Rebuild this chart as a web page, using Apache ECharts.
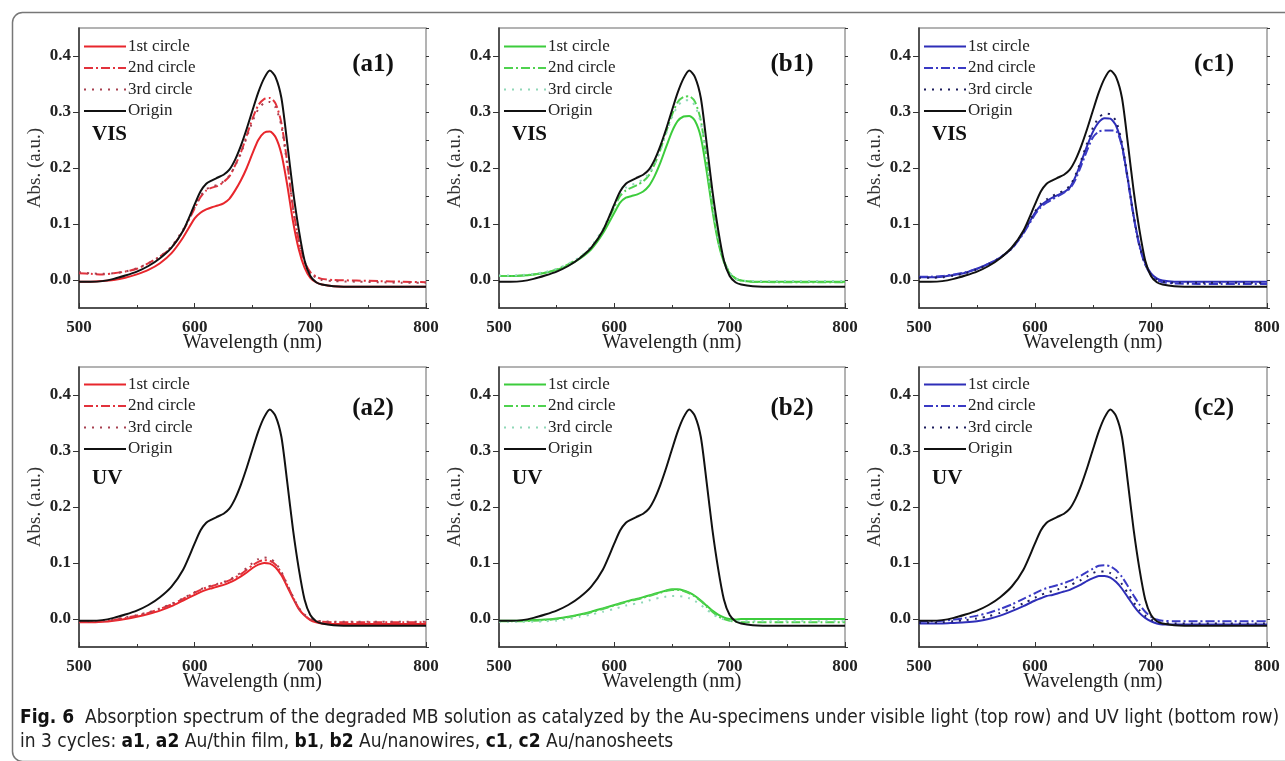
<!DOCTYPE html>
<html>
<head>
<meta charset="utf-8">
<script src="https://cdn.jsdelivr.net/npm/echarts@6/dist/echarts.min.js"></script>
<style>
html,body{margin:0;padding:0;background:#fff;}
#chart{width:1285px;height:761px;}
</style>
</head>
<body>
<div id="chart"></div>
<script>
// ---- data ----
const wavelength = [500,510,520,530,540,550,560,570,580,590,600,605,610,615,620,625,630,635,640,645,650,655,660,665,670,675,680,685,690,695,700,705,710,720,740,760,780,800];
const origin = [-0.003,-0.003,-0.002,0.002,0.008,0.015,0.025,0.039,0.058,0.088,0.135,0.158,0.172,0.178,0.183,0.188,0.197,0.215,0.240,0.270,0.303,0.335,0.360,0.374,0.362,0.325,0.245,0.160,0.090,0.035,0.007,-0.004,-0.008,-0.011,-0.012,-0.012,-0.012,-0.012];

const a1_1st = [-0.003,-0.003,-0.002,0.000,0.004,0.010,0.018,0.030,0.048,0.076,0.110,0.120,0.126,0.130,0.133,0.137,0.145,0.160,0.178,0.200,0.226,0.250,0.263,0.265,0.255,0.225,0.170,0.105,0.055,0.022,0.004,-0.004,-0.008,-0.011,-0.012,-0.012,-0.012,-0.012];
const a1_2nd = [0.012,0.011,0.010,0.012,0.015,0.020,0.030,0.042,0.058,0.088,0.128,0.148,0.160,0.165,0.168,0.175,0.185,0.205,0.228,0.258,0.288,0.312,0.323,0.325,0.315,0.280,0.210,0.130,0.070,0.033,0.014,0.006,0.002,0.000,-0.001,-0.002,-0.003,-0.004];
const a1_3rd = [0.014,0.012,0.011,0.012,0.015,0.021,0.030,0.042,0.060,0.090,0.130,0.150,0.162,0.167,0.170,0.176,0.186,0.204,0.226,0.255,0.283,0.305,0.316,0.318,0.308,0.275,0.205,0.128,0.068,0.032,0.013,0.004,0.000,-0.002,-0.003,-0.004,-0.005,-0.005];

const b1_1st = [0.007,0.007,0.008,0.010,0.013,0.018,0.026,0.038,0.055,0.083,0.120,0.138,0.147,0.150,0.153,0.158,0.168,0.186,0.210,0.238,0.265,0.284,0.292,0.293,0.284,0.255,0.195,0.125,0.068,0.032,0.012,0.003,-0.001,-0.003,-0.003,-0.003,-0.003,-0.003];
const b1_2nd = [0.007,0.007,0.008,0.010,0.013,0.019,0.028,0.040,0.058,0.088,0.130,0.150,0.160,0.165,0.170,0.176,0.187,0.207,0.233,0.265,0.295,0.318,0.327,0.328,0.318,0.285,0.215,0.135,0.073,0.035,0.013,0.003,-0.001,-0.003,-0.004,-0.004,-0.004,-0.004];
const b1_3rd = [0.008,0.008,0.009,0.011,0.014,0.020,0.029,0.041,0.060,0.091,0.134,0.155,0.165,0.170,0.174,0.180,0.190,0.208,0.232,0.262,0.290,0.311,0.320,0.321,0.311,0.280,0.212,0.133,0.072,0.034,0.013,0.003,-0.001,-0.002,-0.002,-0.002,-0.002,-0.002];

const c1_1st = [0.005,0.005,0.006,0.009,0.013,0.020,0.029,0.040,0.057,0.085,0.120,0.133,0.141,0.147,0.152,0.157,0.165,0.185,0.212,0.240,0.265,0.282,0.289,0.288,0.275,0.240,0.180,0.115,0.063,0.030,0.012,0.003,-0.001,-0.003,-0.003,-0.003,-0.003,-0.003];
const c1_2nd = [0.006,0.006,0.007,0.010,0.014,0.020,0.029,0.040,0.056,0.083,0.117,0.130,0.138,0.144,0.150,0.156,0.163,0.180,0.205,0.232,0.255,0.265,0.267,0.267,0.266,0.238,0.178,0.113,0.060,0.027,0.009,0.000,-0.004,-0.006,-0.007,-0.007,-0.007,-0.007];
const c1_3rd = [0.004,0.004,0.005,0.008,0.012,0.019,0.028,0.040,0.057,0.086,0.122,0.136,0.144,0.150,0.155,0.160,0.168,0.188,0.215,0.245,0.272,0.290,0.297,0.296,0.283,0.245,0.182,0.115,0.062,0.028,0.010,0.001,-0.003,-0.005,-0.005,-0.005,-0.005,-0.005];

const a2_1st = [-0.006,-0.006,-0.005,-0.003,0.000,0.004,0.009,0.015,0.023,0.033,0.043,0.048,0.052,0.055,0.058,0.061,0.065,0.070,0.076,0.083,0.091,0.097,0.100,0.099,0.092,0.078,0.058,0.037,0.018,0.006,-0.002,-0.006,-0.008,-0.009,-0.009,-0.009,-0.009,-0.009];
const a2_2nd = [-0.005,-0.005,-0.004,-0.002,0.002,0.006,0.011,0.018,0.026,0.036,0.047,0.052,0.056,0.059,0.062,0.065,0.069,0.074,0.080,0.088,0.096,0.102,0.105,0.104,0.097,0.082,0.061,0.039,0.019,0.007,-0.001,-0.004,-0.005,-0.006,-0.006,-0.006,-0.006,-0.006];
const a2_3rd = [-0.004,-0.004,-0.003,-0.001,0.003,0.007,0.012,0.019,0.027,0.037,0.048,0.053,0.057,0.060,0.063,0.066,0.070,0.076,0.083,0.091,0.100,0.107,0.110,0.108,0.100,0.084,0.062,0.040,0.020,0.008,0.000,-0.003,-0.004,-0.005,-0.005,-0.005,-0.005,-0.005];

const b2_1st = [-0.003,-0.003,-0.003,-0.002,-0.001,0.001,0.004,0.008,0.013,0.019,0.025,0.028,0.031,0.034,0.036,0.039,0.042,0.045,0.048,0.051,0.053,0.053,0.051,0.047,0.041,0.033,0.024,0.015,0.008,0.003,0.000,-0.001,0.000,0.000,0.000,0.000,0.000,0.000];
const b2_2nd = [-0.004,-0.004,-0.004,-0.003,-0.002,0.000,0.003,0.007,0.012,0.018,0.024,0.027,0.030,0.033,0.035,0.038,0.041,0.044,0.047,0.050,0.052,0.052,0.050,0.046,0.040,0.032,0.022,0.013,0.005,0.000,-0.003,-0.005,-0.006,-0.006,-0.006,-0.006,-0.006,-0.006];
const b2_3rd = [-0.005,-0.005,-0.005,-0.005,-0.004,-0.003,0.000,0.004,0.008,0.013,0.018,0.021,0.024,0.026,0.028,0.030,0.033,0.036,0.038,0.040,0.041,0.041,0.040,0.037,0.032,0.025,0.017,0.009,0.003,-0.001,-0.003,-0.004,-0.004,-0.004,-0.004,-0.004,-0.004,-0.004];

const c2_1st = [-0.008,-0.008,-0.008,-0.007,-0.006,-0.004,0.000,0.006,0.014,0.023,0.033,0.037,0.041,0.043,0.046,0.049,0.052,0.057,0.062,0.068,0.073,0.077,0.077,0.074,0.066,0.054,0.039,0.024,0.011,0.002,-0.004,-0.008,-0.010,-0.010,-0.010,-0.010,-0.010,-0.010];
const c2_2nd = [-0.005,-0.004,-0.003,-0.001,0.002,0.006,0.011,0.018,0.026,0.036,0.046,0.051,0.055,0.058,0.061,0.064,0.068,0.073,0.078,0.084,0.090,0.095,0.096,0.094,0.087,0.075,0.059,0.042,0.026,0.013,0.004,-0.001,-0.003,-0.004,-0.004,-0.004,-0.004,-0.004];
const c2_3rd = [-0.007,-0.007,-0.006,-0.004,-0.002,0.001,0.005,0.011,0.019,0.028,0.038,0.043,0.047,0.050,0.053,0.056,0.060,0.065,0.070,0.076,0.082,0.085,0.085,0.082,0.074,0.062,0.046,0.030,0.016,0.006,-0.001,-0.005,-0.007,-0.008,-0.008,-0.008,-0.008,-0.008];

const seriesNames = ['1st circle','2nd circle','3rd circle','Origin'];
const xTickLabels = [500,600,700,800];
const yTickLabels = [0.0,0.1,0.2,0.3,0.4];
const panelTags = ['(a1)','(b1)','(c1)','(a2)','(b2)','(c2)'];
const lightTags = ['VIS','VIS','VIS','UV','UV','UV'];
const panelData = [
  [a1_1st,a1_2nd,a1_3rd],[b1_1st,b1_2nd,b1_3rd],[c1_1st,c1_2nd,c1_3rd],
  [a2_1st,a2_2nd,a2_3rd],[b2_1st,b2_2nd,b2_3rd],[c2_1st,c2_2nd,c2_3rd]
];

// ---- styling ----
const palettes = {
  a: ['#e8262c','#e2323c','#a84050'],
  b: ['#3ccc3c','#4fd24f','#90d8b8'],
  c: ['#2e2eb8','#3a3ac4','#1c1c5c']
};
const dashes = ['solid',[9,3,2,3],[2,6]];
const grids = [
  {left:79, top:28, width:347, height:280},
  {left:499, top:28, width:346, height:280},
  {left:919, top:28, width:348, height:280},
  {left:79, top:367, width:347, height:280},
  {left:499, top:367, width:346, height:280},
  {left:919, top:367, width:348, height:280}
];
const SERIF = "'Liberation Serif','Times New Roman',serif";

const option = {
  backgroundColor:'#fff',
  animation:false,
  grid: grids.map(g => Object.assign({show:true, borderColor:'#9a9a9a', borderWidth:1.5, backgroundColor:'transparent'}, g)),
  xAxis: [], yAxis: [], series: [], legend: [], graphic: []
};

grids.forEach((g, i) => {
  option.xAxis.push({
    type:'value', gridIndex:i, min:500, max:800, interval:100,
    name:'Wavelength (nm)', nameLocation:'middle', nameGap:25, nameMoveOverlap:false,
    nameTextStyle:{fontFamily:SERIF, fontSize:20, color:'#222'},
    axisLine:{show:true, onZero:false, lineStyle:{color:'#333', width:1.5}},
    axisTick:{show:true, inside:true, length:5, lineStyle:{color:'#333'}},
    minorTick:{show:true, splitNumber:2, length:3, lineStyle:{color:'#333'}},
    splitLine:{show:false}, minorSplitLine:{show:false},
    axisLabel:{customValues:xTickLabels, fontFamily:SERIF, fontWeight:'bold', fontSize:17, color:'#222', margin:11}
  });
  option.yAxis.push({
    type:'value', gridIndex:i, min:-0.05, max:0.45, interval:0.05,
    name:'Abs. (a.u.)', nameLocation:'middle', nameGap:34, nameMoveOverlap:false,
    nameTextStyle:{fontFamily:SERIF, fontSize:19, color:'#333'},
    axisLine:{show:true, onZero:false, lineStyle:{color:'#333', width:1.5}},
    axisTick:{show:true, customValues:yTickLabels, length:6, lineStyle:{color:'#333'}},
    splitLine:{show:false},
    axisLabel:{customValues:yTickLabels, formatter:v => v.toFixed(1), fontFamily:SERIF, fontWeight:'bold', fontSize:17, color:'#222', margin:8}
  });
});
grids.forEach((g, i) => {
  option.yAxis.push({
    type:'value', gridIndex:i, min:-0.05, max:0.45, interval:0.05,
    axisLine:{show:false}, axisTick:{show:true, length:3, lineStyle:{color:'#333'}},
    axisLabel:{show:false}, splitLine:{show:false}
  });
});

grids.forEach((g, i) => {
  const key = ['a','b','c'][i % 3];
  const cols = palettes[key];
  const row2 = i >= 3;
  const names = [];
  panelData[i].forEach((arr, k) => {
    const nm = panelTags[i] + '|' + seriesNames[k];
    names.push(nm);
    option.series.push({
      name:nm, type:'line', xAxisIndex:i, yAxisIndex:i, symbol:'none', smooth:0.25,
      lineStyle:{color:cols[k], width:2, type:dashes[k]}, itemStyle:{color:cols[k]},
      data: wavelength.map((x, j) => [x, arr[j]])
    });
  });
  const on = panelTags[i] + '|' + seriesNames[3];
  names.push(on);
  option.series.push({
    name:on, type:'line', xAxisIndex:i, yAxisIndex:i, symbol:'none', smooth:0.25,
    lineStyle:{color:'#111', width:2}, itemStyle:{color:'#111'},
    data: wavelength.map((x, j) => [x, origin[j]])
  });
  option.legend.push({
    data:names, orient:'vertical', left:g.left + 4, top:g.top + (row2 ? 9 : 10), padding:0,
    itemWidth:42, itemHeight:14, itemGap:4.5, selectedMode:false,
    itemStyle:{opacity:0},
    formatter: n => n.split('|')[1],
    textStyle:{fontFamily:SERIF, fontSize:17, color:'#222', padding:[0,0,0,-3]}
  });
  option.graphic.push({
    type:'text', x:g.left + g.width - 53, y:g.top + (row2 ? 42 : 37),
    style:{text:panelTags[i], font:"bold 25px 'Liberation Serif', serif", fill:'#111', align:'center', verticalAlign:'middle'}
  });
  option.graphic.push({
    type:'text', x:g.left + 13, y:g.top + (row2 ? 112 : 107),
    style:{text:lightTags[i], font:"bold 21px 'Liberation Serif', serif", fill:'#111', align:'left', verticalAlign:'middle'}
  });
});

option.graphic.push({
  type:'rect', left:10, top:10, shape:{width:1300, height:749, r:10},
  style:{fill:'none', stroke:'#777', lineWidth:1.5}, silent:true
});
const CAPFONT = "'Liberation Sans Narrow','DejaVu Sans Condensed','Open Sans',sans-serif";
option.graphic.push({
  type:'text', left:20, top:706,
  style:{
    text:'{b|Fig. 6}  Absorption spectrum of the degraded MB solution as catalyzed by the Au-specimens under visible light (top row) and UV light (bottom row)\nin 3 cycles: {b|a1}, {b|a2} Au/thin film, {b|b1}, {b|b2} Au/nanowires, {b|c1}, {b|c2} Au/nanosheets',
    font:"19px " + CAPFONT,
    fill:'#222', lineHeight:24,
    rich:{b:{font:"bold 19px " + CAPFONT, fill:'#111', lineHeight:24}}
  }
});

const chart = echarts.init(document.getElementById('chart'), null, {renderer:'canvas'});
chart.setOption(option);
</script>
</body>
</html>
